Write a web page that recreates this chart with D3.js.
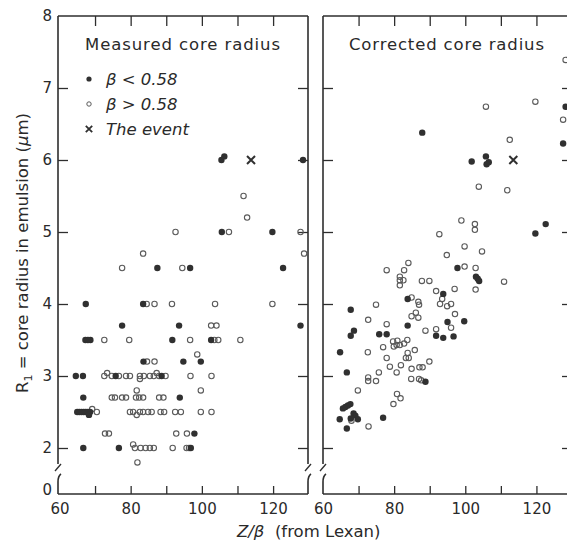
<!DOCTYPE html>
<html>
<head>
<meta charset="utf-8">
<script src="https://cdn.jsdelivr.net/npm/d3@7"></script>
<style>
  html, body { margin: 0; padding: 0; background: #fff; }
  svg { display: block; }
  text { font-family: "DejaVu Sans", sans-serif; fill: #2a2a2a; }
</style>
</head>
<body>
<script>
// Core radius R1 (µm) versus Z/β (from Lexan), two panels:
// measured values on the left, corrected values on the right.

const xTicks = [60, 70, 80, 90, 100, 110, 120];
const xLabels = [60, 80, 100, 120];
const yTicks = [2, 3, 4, 5, 6, 7, 8];
const panelTitles = ["Measured core radius", "Corrected core radius"];
const legendLabels = ["β < 0.58", "β > 0.58", "The event"];

// [Z/β, R1] — measured, β < 0.58
const measuredLowBeta = [
  [105.5, 6.0], [106.3, 6.05], [128.4, 6.0],
  [105.6, 5.0], [119.8, 5.0],
  [87.5, 4.5], [96.7, 4.5], [122.8, 4.5],
  [67.4, 4.0], [83.5, 4.0],
  [77.6, 3.7], [93.6, 3.7], [127.7, 3.7],
  [67.3, 3.5], [68.0, 3.5], [68.7, 3.5], [91.7, 3.5], [102.6, 3.5],
  [83.6, 3.2], [94.8, 3.2], [99.7, 3.2],
  [64.6, 3.0], [66.6, 3.0], [75.8, 3.0], [88.7, 3.0],
  [66.7, 2.7], [93.8, 2.7],
  [65.0, 2.5], [65.6, 2.5], [66.2, 2.5], [66.8, 2.5], [67.4, 2.5], [68.0, 2.5], [68.6, 2.5], [68.3, 2.46],
  [97.9, 2.2],
  [66.7, 2.0], [76.7, 2.0], [96.9, 2.0]
];

// [Z/β, R1] — measured, β > 0.58
const measuredHighBeta = [
  [111.7, 5.5], [112.7, 5.2],
  [92.6, 5.0], [107.6, 5.0], [127.7, 5.0],
  [83.5, 4.7], [128.7, 4.7],
  [77.6, 4.5], [94.5, 4.5],
  [84.5, 4.0], [86.7, 4.0], [91.6, 4.0], [103.7, 4.0], [119.8, 4.0],
  [102.6, 3.7], [104.1, 3.7],
  [72.6, 3.5], [79.6, 3.5], [96.7, 3.5], [103.5, 3.5], [104.6, 3.5], [110.8, 3.5],
  [98.7, 3.3],
  [84.6, 3.2], [86.7, 3.2],
  [72.6, 3.0], [73.4, 3.04], [74.7, 3.0], [76.7, 3.0], [78.7, 3.0], [79.8, 3.0], [82.6, 3.0],
  [83.7, 3.0], [82.6, 2.96], [85.4, 3.0], [86.5, 3.0], [87.3, 3.04], [88.0, 3.0], [89.8, 3.0],
  [96.8, 3.0], [102.7, 3.0],
  [81.7, 2.8], [99.7, 2.8],
  [74.7, 2.7], [75.6, 2.7], [77.6, 2.7], [78.7, 2.7], [81.5, 2.7], [82.4, 2.7], [83.5, 2.7],
  [88.0, 2.7], [89.2, 2.7],
  [69.2, 2.54], [70.5, 2.5], [79.8, 2.5], [80.7, 2.5], [81.7, 2.46], [82.6, 2.5], [83.5, 2.5],
  [84.9, 2.5], [85.9, 2.5], [88.4, 2.5], [89.4, 2.5], [92.5, 2.5], [94.1, 2.5], [99.7, 2.5], [102.7, 2.5],
  [72.8, 2.2], [73.9, 2.2], [92.8, 2.2], [95.8, 2.2],
  [80.7, 2.05], [81.2, 2.0], [82.8, 2.0], [84.2, 2.0], [85.4, 2.0], [86.5, 2.0], [91.8, 2.0],
  [95.7, 2.0], [96.4, 2.0],
  [81.9, 1.8]
];

const measuredEvent = [[113.8, 6.0]];

// [Z/β, R1] — corrected, β < 0.58
const correctedLowBeta = [
  [87.9, 6.38], [101.8, 5.98], [105.8, 6.05], [106.0, 5.94], [106.6, 5.97],
  [128.2, 6.74], [127.5, 6.23],
  [119.7, 4.98], [122.6, 5.11],
  [97.8, 4.5], [103.0, 4.38], [103.5, 4.35], [103.9, 4.32],
  [93.8, 4.14], [83.8, 4.07],
  [95.0, 3.75], [99.7, 3.76], [83.8, 3.70], [67.8, 3.92],
  [91.8, 3.56], [93.8, 3.53], [96.7, 3.55],
  [68.7, 3.63], [67.8, 3.56], [75.8, 3.58], [77.9, 3.58],
  [64.8, 3.33],
  [66.7, 3.05], [88.8, 2.92],
  [65.6, 2.55], [66.3, 2.57], [67.0, 2.59], [67.7, 2.61],
  [64.7, 2.40], [66.7, 2.27],
  [68.6, 2.48], [69.1, 2.45], [69.8, 2.40], [67.8, 2.41],
  [76.9, 2.42]
];

// [Z/β, R1] — corrected, β > 0.58
const correctedHighBeta = [
  [128.2, 7.39], [105.8, 6.74], [119.7, 6.81], [127.5, 6.56], [112.5, 6.28],
  [103.8, 5.63], [111.8, 5.58],
  [98.9, 5.16], [102.7, 5.11], [102.7, 5.03], [92.7, 4.97],
  [99.8, 4.80], [104.7, 4.73], [94.8, 4.68],
  [99.8, 4.52], [102.9, 4.5], [102.9, 4.2], [110.9, 4.31],
  [84.0, 4.57], [82.8, 4.47], [77.9, 4.47],
  [81.6, 4.38], [81.6, 4.33], [81.6, 4.26], [82.6, 4.33],
  [87.8, 4.32], [89.9, 4.32],
  [91.8, 4.18], [97.0, 4.21], [93.5, 4.07], [92.9, 4.0], [94.9, 3.97], [96.0, 4.0],
  [84.9, 4.09], [86.8, 4.03], [87.0, 3.99], [74.9, 3.99],
  [97.1, 3.86], [86.1, 3.88], [84.9, 3.83], [86.8, 3.81],
  [96.0, 3.67], [72.7, 3.78], [77.9, 3.72], [91.8, 3.65], [88.8, 3.63],
  [72.6, 3.33], [76.9, 3.40], [77.9, 3.25],
  [79.7, 3.48], [80.9, 3.49], [81.6, 3.43], [82.8, 3.45], [83.7, 3.50], [79.9, 3.41], [80.7, 3.43],
  [85.8, 3.36], [83.8, 3.32], [83.3, 3.25], [84.1, 3.25],
  [78.8, 3.13], [81.9, 3.15], [84.9, 3.10], [87.1, 3.12], [88.0, 3.12], [89.9, 3.20],
  [75.7, 3.05], [80.7, 3.05],
  [72.7, 2.98], [72.7, 2.93], [74.9, 2.93],
  [84.8, 2.96], [87.0, 2.96], [87.6, 2.94],
  [69.8, 2.80], [80.8, 2.75], [81.8, 2.69], [79.8, 2.61],
  [68.0, 2.38], [72.8, 2.30]
];

const correctedEvent = [[113.5, 6.0]];

const W = 567, H = 546;
const INK = "#2e2e2e";
const TOP = 16, BOTTOM = 494, BREAK_HI = 464, BREAK_LO = 474;

const svg = d3.select("body").append("svg")
  .attr("width", W).attr("height", H)
  .attr("viewBox", `0 0 ${W} ${H}`);

// Upper (main) part of the broken R1 axis, and the short piece holding zero
const yMain = d3.scaleLinear().domain([2, 8]).range([448, TOP]);
const yZero = d3.scaleLinear().domain([0, 0.3]).range([BOTTOM, 482]);

const panels = [
  { left: 58,  right: 308, domain: [59.6, 129.8], low: measuredLowBeta,  high: measuredHighBeta,  event: measuredEvent,  title: panelTitles[0], titleX: 85,  legend: true },
  { left: 323, right: 572, domain: [60, 130],     low: correctedLowBeta, high: correctedHighBeta, event: correctedEvent, title: panelTitles[1], titleX: 349, legend: false }
];

function crossPath(cx, cy, s) {
  return `M${cx - s},${cy - s}L${cx + s},${cy + s}M${cx - s},${cy + s}L${cx + s},${cy - s}`;
}

// Vertical frame side with the axis-break symbol
function brokenSide(g, x) {
  g.append("path")
    .attr("d", `M${x},${TOP}L${x},${BREAK_HI}`)
    .attr("stroke", INK).attr("stroke-width", 1.6).attr("fill", "none");
  g.append("path")
    .attr("d", `M${x - 3},${BREAK_HI + 7}L${x + 3},${BREAK_HI}`)
    .attr("stroke", INK).attr("stroke-width", 1.3).attr("fill", "none");
  g.append("path")
    .attr("d", `M${x + 3},${BREAK_LO}Q${x},${BREAK_LO + 2} ${x},${BREAK_LO + 8}L${x},${BOTTOM}`)
    .attr("stroke", INK).attr("stroke-width", 1.6).attr("fill", "none");
}

panels.forEach((p, i) => {
  const g = svg.append("g");
  const x = d3.scaleLinear().domain(p.domain).range([p.left, p.right]);

  // frame: top and bottom edges, broken left and right edges
  g.append("line").attr("x1", p.left).attr("x2", p.right).attr("y1", TOP).attr("y2", TOP)
    .attr("stroke", INK).attr("stroke-width", 1.6);
  g.append("line").attr("x1", p.left).attr("x2", p.right).attr("y1", BOTTOM).attr("y2", BOTTOM)
    .attr("stroke", INK).attr("stroke-width", 1.6);
  brokenSide(g, p.left);
  brokenSide(g, p.right);

  // inward ticks along the top edge
  const topAxis = g.append("g").attr("transform", `translate(0,${TOP})`)
    .call(d3.axisTop(x).tickValues(xTicks.filter(v => v > 60)).tickSizeInner(-10).tickSizeOuter(0).tickFormat(""));
  // bottom edge: inward ticks plus labels
  const botAxis = g.append("g").attr("transform", `translate(0,${BOTTOM})`)
    .call(d3.axisBottom(x).tickValues(xTicks).tickSizeInner(-8).tickSizeOuter(0).tickPadding(9)
      .tickFormat(d => xLabels.includes(d) ? d : ""));
  // inward ticks on both vertical edges
  const leftAxis = g.append("g").attr("transform", `translate(${p.left},0)`)
    .call(d3.axisRight(yMain).tickValues(yTicks.filter(v => v < 8)).tickSizeInner(10).tickSizeOuter(0).tickFormat(""));
  const rightAxis = g.append("g").attr("transform", `translate(${p.right},0)`)
    .call(d3.axisLeft(yMain).tickValues(yTicks.filter(v => v < 8)).tickSizeInner(10).tickSizeOuter(0).tickFormat(""));

  [topAxis, botAxis, leftAxis, rightAxis].forEach(a => {
    a.select(".domain").remove();
    a.selectAll(".tick line").attr("stroke", INK).attr("stroke-width", 1.3);
    a.selectAll(".tick text").attr("font-size", 15).attr("fill", INK)
      .attr("font-family", "DejaVu Sans, sans-serif");
  });
  botAxis.selectAll(".tick").filter(d => d === 60).select("line").remove();

  // panel title
  g.append("text").attr("x", p.titleX).attr("y", 50)
    .attr("font-size", 16.5).attr("textLength", 195).attr("lengthAdjust", "spacing")
    .text(p.title);

  const y = v => yMain(v);

  // β > 0.58: open circles
  g.selectAll("circle.open").data(p.high).join("circle")
    .attr("class", "open")
    .attr("cx", d => x(d[0])).attr("cy", d => y(d[1])).attr("r", 2.7)
    .attr("fill", "none").attr("stroke", "#5a5a5a").attr("stroke-width", 1.1);

  // β < 0.58: filled dots
  g.selectAll("circle.filled").data(p.low).join("circle")
    .attr("class", "filled")
    .attr("cx", d => x(d[0])).attr("cy", d => y(d[1])).attr("r", 3.2)
    .attr("fill", "#303030");

  // the event
  g.selectAll("path.event").data(p.event).join("path")
    .attr("class", "event")
    .attr("d", d => crossPath(x(d[0]), y(d[1]), 4))
    .attr("stroke", "#303030").attr("stroke-width", 2).attr("fill", "none");

  if (p.legend) {
    const lx = 89, rows = [79, 104, 129];
    g.append("circle").attr("cx", lx).attr("cy", rows[0]).attr("r", 2.6).attr("fill", "#303030");
    g.append("circle").attr("cx", lx).attr("cy", rows[1]).attr("r", 2.2)
      .attr("fill", "none").attr("stroke", "#5a5a5a").attr("stroke-width", 1);
    g.append("path").attr("d", crossPath(lx, rows[2], 3.2))
      .attr("stroke", "#303030").attr("stroke-width", 1.8).attr("fill", "none");
    legendLabels.forEach((t, k) => {
      g.append("text").attr("x", 106).attr("y", rows[k] + 6)
        .attr("font-size", 16.5).attr("font-style", "italic")
        .text(t);
    });
  }

  // R1 tick labels along the outer left edge only
  if (i === 0) {
    yTicks.forEach(v => {
      g.append("text").attr("x", 52).attr("y", yMain(v)).attr("dy", "0.36em")
        .attr("text-anchor", "end").attr("font-size", 15).text(v);
    });
    g.append("text").attr("x", 52).attr("y", yZero(0) - 4).attr("dy", "0.36em")
      .attr("text-anchor", "end").attr("font-size", 15).text(0);
  }
});

// axis titles
const yTitle = svg.append("text")
  .attr("transform", "translate(28,253) rotate(-90)")
  .attr("text-anchor", "middle").attr("font-size", 16.5);
yTitle.append("tspan").text("R");
yTitle.append("tspan").attr("font-size", 11).attr("dy", 4).text("1");
yTitle.append("tspan").attr("dy", -4).text(" = core radius in emulsion (");
yTitle.append("tspan").attr("font-style", "italic").text("μ");
yTitle.append("tspan").text("m)");

const xTitle = svg.append("text").attr("x", 237).attr("y", 537).attr("font-size", 16.5);
xTitle.append("tspan").attr("font-style", "italic").text("Z/β");
xTitle.append("tspan").attr("xml:space", "preserve").text("  (from Lexan)");
</script>
</body>
</html>
